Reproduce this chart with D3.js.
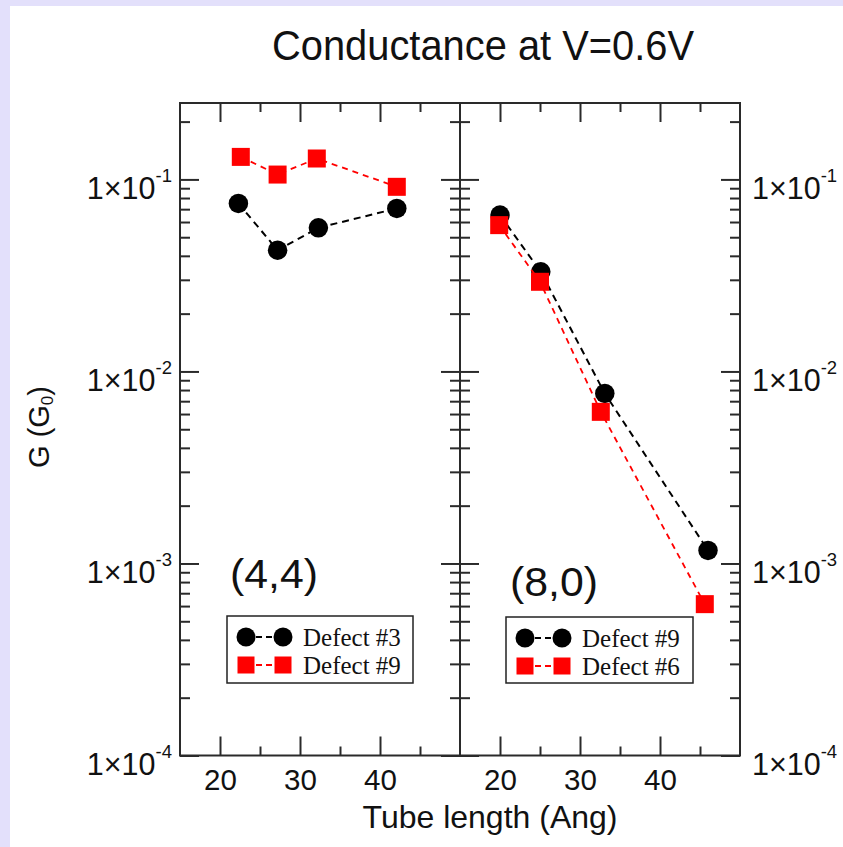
<!DOCTYPE html>
<html><head><meta charset="utf-8">
<script src="https://cdn.jsdelivr.net/npm/d3@7"></script>
<style>
html,body{margin:0;padding:0;background:#e3e0fb;}
svg{display:block;}
</style></head>
<body>
<svg id="chart" width="843" height="847"></svg>
<script>
// (4,4) tube: conductance (in G0) against tube length (Angstrom)
const lenA_def3 = [22.3, 27.2, 32.3, 42.1];
const gA_def3   = [0.075, 0.0428, 0.056, 0.0706];
const lenA_def9 = [22.6, 27.2, 32.1, 42.1];
const gA_def9   = [0.131, 0.106, 0.1285, 0.0915];

// (8,0) tube
const lenB_def9 = [20.0, 25.1, 33.1, 46.0];
const gB_def9   = [0.0652, 0.033, 0.00768, 0.00117];
const lenB_def6 = [19.9, 25.0, 32.6, 45.6];
const gB_def6   = [0.0578, 0.0293, 0.00616, 0.000614];

// axis ticks
const xMajor = [20, 30, 40];
const xMinor = [25, 35, 45];
const yDecades = [1e-1, 1e-2, 1e-3, 1e-4];
const yExponents = ["-1", "-2", "-3", "-4"];

const title = "Conductance at V=0.6V";
const xTitle = "Tube length (Ang)";

const svg = d3.select("#chart");
const AX = "#2a2a2a";
const sans = "'Liberation Sans', Arial, Helvetica, sans-serif";
const serif = "'Liberation Serif', 'Times New Roman', serif";

// page: white sheet on a lavender margin
svg.append("rect").attr("x", 10).attr("y", 6).attr("width", 833).attr("height", 841).attr("fill", "#ffffff");

const yTop = 103, yBot = 755.5;
const y = d3.scaleLog().domain([1e-4, 0.25]).range([yBot, yTop]);

// minor log ticks 2..9 per decade inside the domain
const yMinor = [];
[1e-4, 1e-3, 1e-2, 1e-1].forEach(d => {
  for (let k = 2; k <= 9; k++) { const v = k * d; if (v <= 0.25) yMinor.push(v); }
});

const panels = [
  { x0: 180, x1: 460, tag: "(4,4)", tagX: 230, tagY: 588,
    series: [
      { name: "Defect #3", xs: lenA_def3, ys: gA_def3, kind: "circle", color: "#000000" },
      { name: "Defect #9", xs: lenA_def9, ys: gA_def9, kind: "square", color: "#ff0000" }
    ],
    legend: { x: 227, y: 616, w: 186, h: 67 }, yLabels: "left" },
  { x0: 460, x1: 740, tag: "(8,0)", tagX: 510, tagY: 596,
    series: [
      { name: "Defect #9", xs: lenB_def9, ys: gB_def9, kind: "circle", color: "#000000" },
      { name: "Defect #6", xs: lenB_def6, ys: gB_def6, kind: "square", color: "#ff0000" }
    ],
    legend: { x: 506, y: 617, w: 187, h: 66 }, yLabels: "right" }
];

function styleAxis(g) {
  g.select(".domain").remove();
  g.selectAll(".tick line").attr("stroke", AX).attr("stroke-width", 2);
}

function marker(g, kind, cx, cy, size, color) {
  if (kind === "circle") {
    g.append("circle").attr("cx", cx).attr("cy", cy).attr("r", size / 2).attr("fill", color);
  } else {
    g.append("rect").attr("x", cx - size / 2).attr("y", cy - size / 2)
      .attr("width", size).attr("height", size).attr("fill", color);
  }
}

panels.forEach(p => {
  const x = d3.scaleLinear().domain([15, 50]).range([p.x0, p.x1]);
  const g = svg.append("g");

  // ticks on all four sides, pointing inward
  g.append("g").attr("transform", `translate(0,${yBot})`)
    .call(d3.axisBottom(x).tickValues(xMajor).tickSize(-19).tickFormat(d3.format("d")))
    .call(styleAxis)
    .call(a => a.selectAll("text").attr("y", 34.5).attr("dy", 0)
      .attr("font-family", sans).attr("font-size", 29.5).attr("fill", "#111"));
  g.append("g").attr("transform", `translate(0,${yBot})`)
    .call(d3.axisBottom(x).tickValues(xMinor).tickSize(-9).tickFormat(""))
    .call(styleAxis);
  g.append("g").attr("transform", `translate(0,${yTop})`)
    .call(d3.axisTop(x).tickValues(xMajor).tickSize(-19).tickFormat(""))
    .call(styleAxis);
  g.append("g").attr("transform", `translate(0,${yTop})`)
    .call(d3.axisTop(x).tickValues(xMinor).tickSize(-9).tickFormat(""))
    .call(styleAxis);

  g.append("g").attr("transform", `translate(${p.x0},0)`)
    .call(d3.axisLeft(y).tickValues(yDecades).tickSize(-19).tickFormat(""))
    .call(styleAxis);
  g.append("g").attr("transform", `translate(${p.x0},0)`)
    .call(d3.axisLeft(y).tickValues(yMinor).tickSize(-10).tickFormat(""))
    .call(styleAxis);
  g.append("g").attr("transform", `translate(${p.x1},0)`)
    .call(d3.axisRight(y).tickValues(yDecades).tickSize(-19).tickFormat(""))
    .call(styleAxis);
  g.append("g").attr("transform", `translate(${p.x1},0)`)
    .call(d3.axisRight(y).tickValues(yMinor).tickSize(-10).tickFormat(""))
    .call(styleAxis);

  // frame
  g.append("rect").attr("x", p.x0).attr("y", yTop)
    .attr("width", p.x1 - p.x0).attr("height", yBot - yTop)
    .attr("fill", "none").attr("stroke", AX).attr("stroke-width", 2);

  // decade labels 1x10^n
  yDecades.forEach((v, i) => {
    const t = g.append("text").attr("font-family", sans).attr("fill", "#111");
    if (p.yLabels === "left") t.attr("x", 172).attr("text-anchor", "end");
    else t.attr("x", 752).attr("text-anchor", "start");
    t.attr("y", y(v) + 19.5);
    t.append("tspan").attr("font-size", 30.5).text("1\u00d710");
    t.append("tspan").attr("font-size", 18.5).attr("dy", -17).text(yExponents[i]);
  });

  // data series: dashed connecting line then markers
  p.series.forEach(s => {
    const pts = s.xs.map((xv, i) => [x(xv), y(s.ys[i])]);
    const isRed = s.kind === "square";
    g.append("path").attr("d", d3.line()(pts)).attr("fill", "none")
      .attr("stroke", s.color).attr("stroke-width", isRed ? 1.8 : 2)
      .attr("stroke-dasharray", isRed ? "6,5" : "7,5");
    pts.forEach(pt => marker(g, s.kind, pt[0], pt[1], isRed ? 18 : 19.5, s.color));
  });

  // tube label
  g.append("text").attr("x", p.tagX).attr("y", p.tagY)
    .attr("font-family", sans).attr("font-size", 41).attr("fill", "#111")
    .attr("textLength", 88).attr("lengthAdjust", "spacingAndGlyphs").text(p.tag);

  // legend
  const L = p.legend;
  const lg = g.append("g");
  lg.append("rect").attr("x", L.x).attr("y", L.y).attr("width", L.w).attr("height", L.h)
    .attr("fill", "#fff").attr("stroke", "#222").attr("stroke-width", 1.5);
  p.series.forEach((s, i) => {
    const cy = L.y + 21 + i * 28;
    const sx1 = L.x + 19, sx2 = L.x + 56;
    const isRed = s.kind === "square";
    lg.append("line").attr("x1", sx1).attr("x2", sx2).attr("y1", cy).attr("y2", cy)
      .attr("stroke", s.color).attr("stroke-width", isRed ? 1.8 : 2)
      .attr("stroke-dasharray", "6,4");
    marker(lg, s.kind, sx1, cy, isRed ? 17 : 19, s.color);
    marker(lg, s.kind, sx2, cy, isRed ? 17 : 19, s.color);
    lg.append("text").attr("x", L.x + 76).attr("y", cy + 9)
      .attr("font-family", serif).attr("font-size", 25).attr("fill", "#111").text(s.name);
  });
});

// titles
svg.append("text").attr("x", 483).attr("y", 60).attr("text-anchor", "middle")
  .attr("font-family", sans).attr("font-size", 43).attr("fill", "#111")
  .attr("textLength", 422).attr("lengthAdjust", "spacingAndGlyphs").text(title);

svg.append("text").attr("x", 490).attr("y", 828).attr("text-anchor", "middle")
  .attr("font-family", sans).attr("font-size", 32).attr("fill", "#111").text(xTitle);

const yt = svg.append("text").attr("transform", "translate(49,427) rotate(-90)")
  .attr("text-anchor", "middle").attr("font-family", sans).attr("font-size", 29).attr("fill", "#111");
yt.append("tspan").text("G (G");
yt.append("tspan").attr("font-size", 17).attr("dy", 4).text("0");
yt.append("tspan").attr("dy", -4).text(")");
</script>
</body></html>
